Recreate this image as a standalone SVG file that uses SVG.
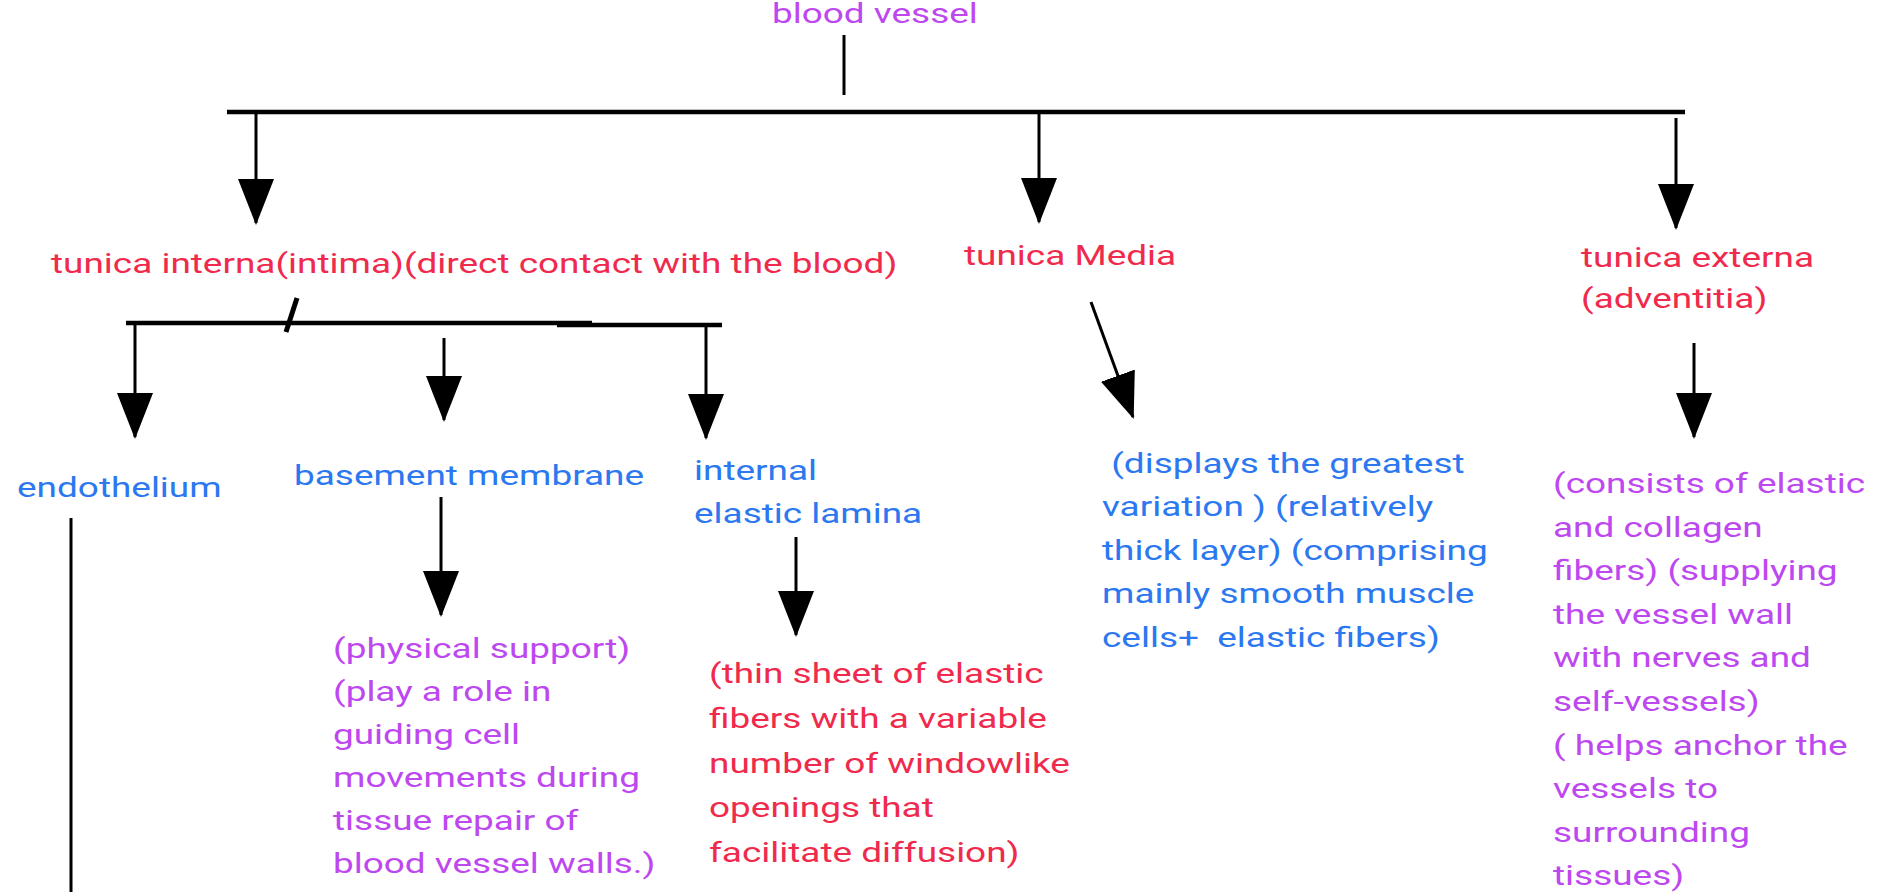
<svg xmlns="http://www.w3.org/2000/svg" width="1879" height="892" viewBox="0 0 1879 892">
<style>
text{font-family:Roboto,"Liberation Sans",sans-serif;font-size:28px}
.p{fill:#bd48f0}.r{fill:#f02a4c}.b{fill:#2b78f0}
.c line{stroke:#000;stroke-width:3;fill:none}
.c .bar{stroke-width:4.5}
.c .arr{marker-end:url(#ah)}
</style>
<defs>
<marker id="ah" markerUnits="userSpaceOnUse" markerWidth="46" markerHeight="40" refX="44" refY="20" orient="auto" viewBox="0 0 46 40">
<path d="M0,2 L46,20 L0,38 z" fill="#000"/>
</marker>
</defs>
<rect width="1879" height="892" fill="#fff"/>
<g class="c" id="connectors">
<line x1="844" y1="35" x2="844" y2="95"/>
<line class="bar" x1="227" y1="112" x2="1685" y2="112"/>
<line class="arr" x1="256" y1="112" x2="256" y2="223"/>
<line class="arr" x1="1039" y1="112" x2="1039" y2="222"/>
<line class="arr" x1="1676" y1="118" x2="1676" y2="228"/>
<line class="bar" x1="126" y1="323" x2="592" y2="323"/>
<line class="bar" x1="557" y1="325" x2="722" y2="325"/>
<line style="stroke-width:5" x1="297" y1="298" x2="286" y2="332"/>
<line class="arr" x1="135" y1="323" x2="135" y2="437"/>
<line class="arr" x1="444" y1="338" x2="444" y2="420"/>
<line class="arr" x1="706" y1="325" x2="706" y2="438"/>
<line class="arr" x1="1091" y1="302" x2="1133" y2="417"/>
<line class="arr" x1="1694" y1="343" x2="1694" y2="437"/>
<line class="arr" x1="441" y1="497" x2="441" y2="615"/>
<line class="arr" x1="796" y1="537" x2="796" y2="635"/>
<line x1="71" y1="518" x2="71" y2="892"/>
</g>
<g id="blood-vessel"><text class="p" transform="translate(772,23) scale(1.32,1)">blood vessel</text></g>
<g id="tunica-interna"><text class="r" transform="translate(51,273) scale(1.32,1)">tunica interna(intima)(direct contact with the blood)</text></g>
<g id="tunica-media"><text class="r" transform="translate(964,265) scale(1.32,1)">tunica Media</text></g>
<g id="tunica-externa"><text class="r" transform="translate(1581,267) scale(1.32,1)"><tspan x="0">tunica externa</tspan><tspan x="0" dy="41">(adventitia)</tspan></text></g>
<g id="endothelium"><text class="b" transform="translate(17,497) scale(1.32,1)">endothelium</text></g>
<g id="basement-membrane"><text class="b" transform="translate(294,485) scale(1.32,1)">basement membrane</text></g>
<g id="internal-elastic-lamina"><text class="b" transform="translate(694,480) scale(1.32,1)"><tspan x="0">internal</tspan><tspan x="0" dy="43">elastic lamina</tspan></text></g>
<g id="basement-desc"><text class="p" transform="translate(333,658) scale(1.32,1)"><tspan x="0">(physical support)</tspan><tspan x="0" dy="43">(play a role in</tspan><tspan x="0" dy="43">guiding cell</tspan><tspan x="0" dy="43">movements during</tspan><tspan x="0" dy="43">tissue repair of</tspan><tspan x="0" dy="43">blood vessel walls.)</tspan></text></g>
<g id="lamina-desc"><text class="r" transform="translate(709,683) scale(1.32,1)"><tspan x="0">(thin sheet of elastic</tspan><tspan x="0" dy="44.8">fibers with a variable</tspan><tspan x="0" dy="44.8">number of windowlike</tspan><tspan x="0" dy="44.8">openings that</tspan><tspan x="0" dy="44.8">facilitate diffusion)</tspan></text></g>
<g id="media-desc"><text class="b" transform="translate(1102,473) scale(1.32,1)"><tspan x="7"> (displays the greatest</tspan><tspan x="0" dy="43.5">variation ) (relatively</tspan><tspan x="0" dy="43.5">thick layer) (comprising</tspan><tspan x="0" dy="43.5">mainly smooth muscle</tspan><tspan x="0" dy="43.5" xml:space="preserve">cells+  elastic fibers)</tspan></text></g>
<g id="externa-desc"><text class="p" transform="translate(1553,493) scale(1.32,1)"><tspan x="0">(consists of elastic</tspan><tspan x="0" dy="43.6">and collagen</tspan><tspan x="0" dy="43.6">fibers) (supplying</tspan><tspan x="0" dy="43.6">the vessel wall</tspan><tspan x="0" dy="43.6">with nerves and</tspan><tspan x="0" dy="43.6">self-vessels)</tspan><tspan x="0" dy="43.6">( helps anchor the</tspan><tspan x="0" dy="43.6">vessels to</tspan><tspan x="0" dy="43.6">surrounding</tspan><tspan x="0" dy="43.6">tissues)</tspan></text></g>
</svg>
